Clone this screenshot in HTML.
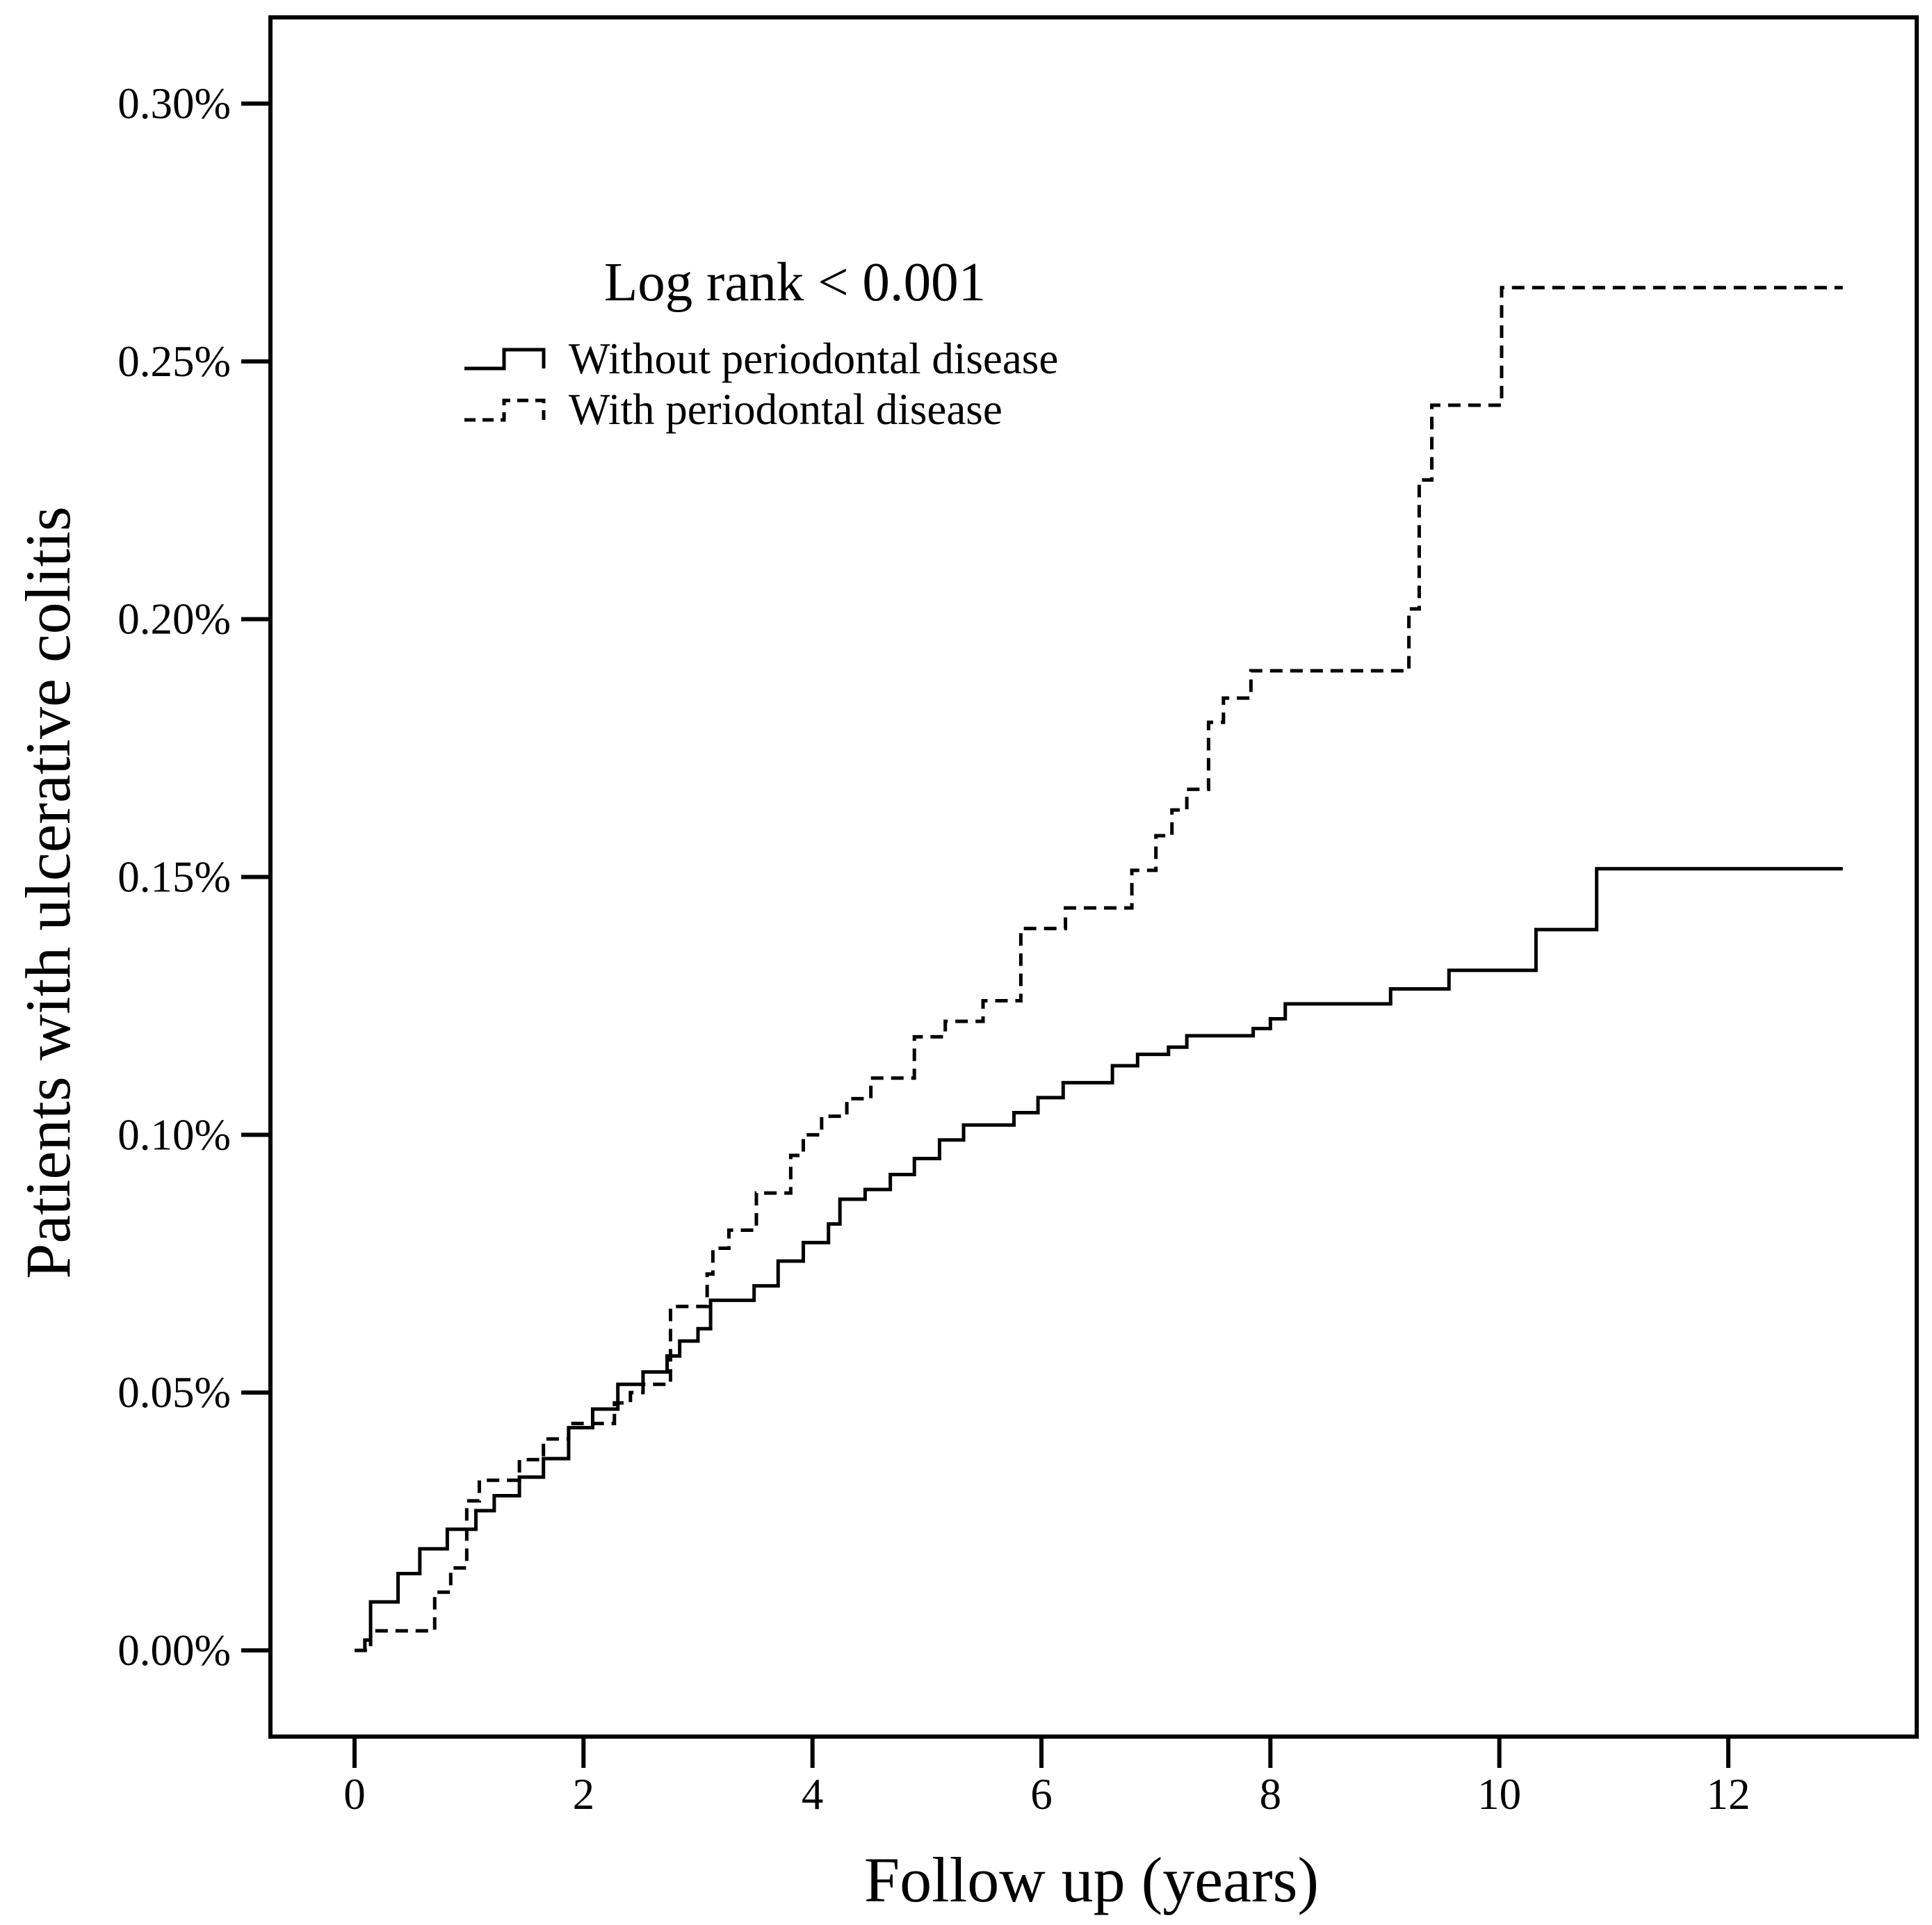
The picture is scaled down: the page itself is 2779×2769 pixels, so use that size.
<!DOCTYPE html>
<html><head><meta charset="utf-8"><style>
html,body{margin:0;padding:0;background:#fff}
svg text{font-family:"Liberation Serif",serif;fill:#000}
</style></head><body>
<svg id="chart" width="2779" height="2764" viewBox="0 0 2779 2764" xmlns="http://www.w3.org/2000/svg">
<rect x="389" y="25" width="2368" height="2473" fill="none" stroke="#000" stroke-width="6"/>
<g id="axes"></g>
<g id="series"></g>
<text x="1570" y="2735" font-size="92" text-anchor="middle">Follow up (years)</text>
<text transform="translate(100,1284) rotate(-90)" font-size="92" text-anchor="middle">Patients with ulcerative colitis</text>
<text x="869" y="432" font-size="79">Log rank &lt; 0.001</text>
<g>
<path d="M668,530 H725 V503 H782 V530" fill="none" stroke="#000" stroke-width="5"/>
<text x="818" y="537" font-size="63">Without periodontal disease</text>
<path d="M668,604 H725 V576 H782 V604" fill="none" stroke="#000" stroke-width="5" stroke-dasharray="16,10"/>
<text x="818" y="610" font-size="63">With periodontal disease</text>
</g>
</svg>
<script>
const xTicks = [0, 2, 4, 6, 8, 10, 12];
const yTicks = [0, 0.05, 0.10, 0.15, 0.20, 0.25, 0.30];
const yTickLabels = ["0.00%", "0.05%", "0.10%", "0.15%", "0.20%", "0.25%", "0.30%"];
const solidX = [0, 0.09, 0.14, 0.38, 0.57, 0.81, 1.06, 1.22, 1.44, 1.65, 1.87, 2.08, 2.30, 2.52, 2.73, 2.84, 3.00, 3.11, 3.49, 3.70, 3.92, 4.14, 4.24, 4.46, 4.68, 4.89, 5.11, 5.32, 5.76, 5.97, 6.19, 6.62, 6.84, 7.11, 7.27, 7.85, 8.00, 8.13, 9.05, 9.56, 10.32, 10.85, 13.0];
const solidY = [0, 0.002, 0.0094, 0.0149, 0.0197, 0.0235, 0.0271, 0.0300, 0.0336, 0.0372, 0.0432, 0.0468, 0.0516, 0.0540, 0.0571, 0.0600, 0.0624, 0.0679, 0.0707, 0.0755, 0.0791, 0.0827, 0.0875, 0.0894, 0.0923, 0.0954, 0.0990, 0.1019, 0.1043, 0.1072, 0.1101, 0.1134, 0.1156, 0.1170, 0.1192, 0.1206, 0.1225, 0.1254, 0.1283, 0.1319, 0.1398, 0.1516, 0.1516];
const dashX = [0, 0.14, 0.70, 0.84, 0.98, 1.09, 1.44, 1.65, 1.87, 2.27, 2.41, 2.52, 2.76, 3.08, 3.13, 3.27, 3.51, 3.81, 3.92, 4.08, 4.30, 4.51, 4.89, 5.16, 5.49, 5.82, 6.21, 6.79, 7.00, 7.14, 7.27, 7.46, 7.59, 7.83, 9.21, 9.30, 9.41, 10.02, 13.0];
const dashY = [0, 0.0038, 0.0113, 0.016, 0.029, 0.033, 0.037, 0.041, 0.044, 0.048, 0.050, 0.0516, 0.0667, 0.073, 0.078, 0.0815, 0.0887, 0.096, 0.100, 0.1036, 0.107, 0.111, 0.119, 0.122, 0.126, 0.140, 0.144, 0.1513, 0.158, 0.163, 0.167, 0.180, 0.1847, 0.190, 0.202, 0.227, 0.2415, 0.2643, 0.2643];

const NS = "http://www.w3.org/2000/svg";
function sx(v){ return 510 + v * (2486 - 510) / 12; }
function sy(v){ return 2374 - v * (2374 - 149) / 0.30; }
function mk(tag, attrs, parent){
  const e = document.createElementNS(NS, tag);
  for (const k in attrs) e.setAttribute(k, attrs[k]);
  parent.appendChild(e);
  return e;
}
const axes = document.getElementById('axes');
yTicks.forEach((v, i) => {
  const t = mk('line', {x1: 347, x2: 389, y1: sy(v), y2: sy(v), stroke: '#000', 'stroke-width': 6}, axes);
  
  
  const l = mk('text', {x: 332, y: sy(v) + 21, 'font-size': 63, 'text-anchor': 'end'}, axes);
  l.textContent = yTickLabels[i];
  
  
});
xTicks.forEach(v => {
  const t = mk('line', {x1: sx(v), x2: sx(v), y1: 2498, y2: 2543, stroke: '#000', 'stroke-width': 6}, axes);
  
  
  const l = mk('text', {x: sx(v), y: 2602, 'font-size': 63, 'text-anchor': 'middle'}, axes);
  l.textContent = String(v);
  
  
});
function stepPath(xs, ys){
  let d = 'M' + sx(xs[0]) + ',' + sy(ys[0]);
  for (let i = 1; i < xs.length; i++){
    d += ' H' + sx(xs[i]) + ' V' + sy(ys[i]);
  }
  return d;
}
const series = document.getElementById('series');
const p1 = mk('path', {d: stepPath(dashX, dashY), fill: 'none', stroke: '#000', 'stroke-width': 5, 'stroke-dasharray': '18,11'}, series);


const p2 = mk('path', {d: stepPath(solidX, solidY), fill: 'none', stroke: '#000', 'stroke-width': 5}, series);


</script>
</body></html>
